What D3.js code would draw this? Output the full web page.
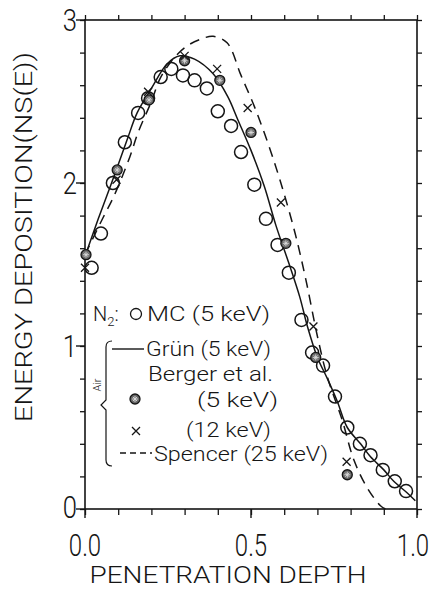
<!DOCTYPE html>
<html>
<head>
<meta charset="utf-8">
<script src="https://cdn.jsdelivr.net/npm/d3@7"></script>
<style>
  body { margin: 0; background: #fff; }
  text { font-family: Roboto, "DejaVu Sans", sans-serif; font-weight: 300; fill: #151515; }
</style>
</head>
<body>
<div class="canvas"></div>
<script>
// MC (N2, 5 keV) open circles
const mcX = [0.02, 0.048, 0.084, 0.12, 0.16, 0.19, 0.228, 0.26, 0.295, 0.33, 0.367, 0.40, 0.44, 0.47, 0.51, 0.545, 0.58, 0.614, 0.652, 0.684, 0.717, 0.753, 0.79, 0.828, 0.86, 0.897, 0.933, 0.967];
const mcY = [1.48, 1.69, 2.0, 2.25, 2.43, 2.52, 2.65, 2.70, 2.66, 2.63, 2.58, 2.44, 2.35, 2.19, 1.99, 1.78, 1.62, 1.45, 1.16, 0.96, 0.88, 0.69, 0.50, 0.40, 0.33, 0.24, 0.17, 0.11];

// Berger et al. (5 keV) and (12 keV)
const berger5X = [0.003, 0.097, 0.193, 0.30, 0.406, 0.50, 0.605, 0.695, 0.79];
const berger5Y = [1.56, 2.08, 2.51, 2.75, 2.63, 2.31, 1.63, 0.93, 0.21];
const berger12X = [0.0, 0.095, 0.19, 0.30, 0.398, 0.49, 0.59, 0.688, 0.788];
const berger12Y = [1.48, 2.02, 2.56, 2.78, 2.70, 2.46, 1.88, 1.12, 0.29];

// Grün (5 keV), solid
const grunX = [0, 0.04, 0.08, 0.126, 0.157, 0.20, 0.247, 0.286, 0.33, 0.386, 0.43, 0.46, 0.50, 0.54, 0.575, 0.617, 0.647, 0.67, 0.70, 0.73, 0.76, 0.79, 0.83, 0.86, 0.90, 0.93, 0.97, 0.995];
const grunY = [1.55, 1.78, 2.0, 2.26, 2.43, 2.58, 2.73, 2.78, 2.76, 2.67, 2.53, 2.39, 2.20, 1.98, 1.74, 1.49, 1.30, 1.12, 0.93, 0.80, 0.66, 0.50, 0.40, 0.32, 0.24, 0.17, 0.10, 0.05];

// Spencer (25 keV), dashed
const spX = [0, 0.055, 0.085, 0.135, 0.16, 0.20, 0.226, 0.265, 0.307, 0.346, 0.386, 0.428, 0.47, 0.51, 0.55, 0.587, 0.633, 0.666, 0.70, 0.73, 0.774, 0.81, 0.85, 0.89, 0.905];
const spY = [1.56, 1.79, 1.91, 2.16, 2.31, 2.50, 2.64, 2.76, 2.84, 2.88, 2.90, 2.86, 2.66, 2.47, 2.25, 2.02, 1.69, 1.40, 1.06, 0.81, 0.55, 0.30, 0.13, 0.02, 0.0];

// tick labels
const xLabels = [0, 0.5, 1.0];
const yLabels = [0, 1, 2, 3];

const dims = { width: 438, height: 589 };
const plot = { left: 85, right: 417, top: 20, bottom: 509 };

const svg = d3
  .select(".canvas")
  .append("svg")
  .attr("width", dims.width)
  .attr("height", dims.height);

const x = d3.scaleLinear().domain([0, 1]).range([plot.left, plot.right]);
const y = d3.scaleLinear().domain([0, 3]).range([plot.bottom, plot.top]);

const ink = "#151515";
const zip = (xs, ys) => xs.map((v, i) => [v, ys[i]]);

// frame ticks (outward, every 0.1 / 0.2)
const xTicks = d3.range(0, 11).map((i) => i / 10);
const yTicks = d3.range(0, 16).map((i) => i / 5);

const axisStyle = (g) => {
  g.select(".domain").remove();
  g.selectAll("line").attr("stroke", ink).attr("stroke-width", 1.3);
};

svg.append("g")
  .attr("transform", `translate(0, ${plot.bottom})`)
  .call(d3.axisBottom(x).tickValues(xTicks).tickSize(6).tickFormat(""))
  .call(axisStyle);
svg.append("g")
  .attr("transform", `translate(0, ${plot.top})`)
  .call(d3.axisTop(x).tickValues(xTicks).tickSize(5).tickFormat(""))
  .call(axisStyle);
svg.append("g")
  .attr("transform", `translate(${plot.left}, 0)`)
  .call(d3.axisLeft(y).tickValues(yTicks).tickSize(5).tickFormat(""))
  .call(axisStyle);
svg.append("g")
  .attr("transform", `translate(${plot.right}, 0)`)
  .call(d3.axisRight(y).tickValues(yTicks).tickSize(5).tickFormat(""))
  .call(axisStyle);

// longer ticks at labelled values
svg.append("g").selectAll("line").data(yLabels).join("line")
  .attr("x1", plot.left - 9).attr("x2", plot.left)
  .attr("y1", (d) => y(d)).attr("y2", (d) => y(d))
  .attr("stroke", ink).attr("stroke-width", 1.4);
svg.append("g").selectAll("line").data(xLabels).join("line")
  .attr("x1", (d) => x(d)).attr("x2", (d) => x(d))
  .attr("y1", plot.bottom).attr("y2", plot.bottom + 9)
  .attr("stroke", ink).attr("stroke-width", 1.4);

// frame
svg.append("rect")
  .attr("x", plot.left).attr("y", plot.top)
  .attr("width", plot.right - plot.left).attr("height", plot.bottom - plot.top)
  .attr("fill", "none").attr("stroke", ink).attr("stroke-width", 1.6);

// tick labels (condensed digits, as in the original)
svg.append("g").selectAll("text").data(yLabels).join("text")
  .attr("transform", (d) => `translate(${plot.left - 8}, ${y(d) + (d === 0 ? 9 : 11)}) scale(0.8, 1)`)
  .attr("text-anchor", "end")
  .attr("font-size", 32)
  .text((d) => d);
svg.append("g").selectAll("text").data(xLabels).join("text")
  .attr("transform", (d) => `translate(${x(d) - (d === 1 ? 4 : 0)}, 556) scale(0.75, 1)`)
  .attr("text-anchor", "middle")
  .attr("font-size", 32)
  .text((d) => d3.format(".1f")(d));

// axis titles
svg.append("text")
  .attr("transform", "translate(32, 237) rotate(-90)")
  .attr("text-anchor", "middle")
  .attr("font-size", 23)
  .attr("textLength", 370).attr("lengthAdjust", "spacingAndGlyphs")
  .text("ENERGY DEPOSITION(NS(E))");
svg.append("text")
  .attr("x", 228).attr("y", 583)
  .attr("text-anchor", "middle")
  .attr("font-size", 24)
  .attr("textLength", 277).attr("lengthAdjust", "spacingAndGlyphs")
  .text("PENETRATION DEPTH");

// curves
const line = d3.line()
  .x((d) => x(d[0]))
  .y((d) => y(d[1]))
  .curve(d3.curveCatmullRom.alpha(0.5));

svg.append("path")
  .attr("d", line(zip(grunX, grunY)))
  .attr("fill", "none").attr("stroke", ink).attr("stroke-width", 1.5);

svg.append("path")
  .attr("d", line(zip(spX, spY)))
  .attr("fill", "none").attr("stroke", ink).attr("stroke-width", 1.5)
  .attr("stroke-dasharray", "10,7");

// markers
const drawBerger = (g) => {
  g.append("circle").attr("r", 5).attr("fill", "#6a6a6a").attr("stroke", ink).attr("stroke-width", 1.3);
  g.append("path").attr("d", "M-3,0H3M0,-3V3M-2,-2L2,2M-2,2L2,-2")
    .attr("stroke", "#ddd").attr("stroke-width", 0.9);
};
const drawCross = (g) => {
  g.append("path").attr("d", "M-4,-4L4,4M-4,4L4,-4")
    .attr("stroke", ink).attr("stroke-width", 1.3);
};

svg.append("g").selectAll("circle").data(zip(mcX, mcY)).join("circle")
  .attr("cx", (d) => x(d[0])).attr("cy", (d) => y(d[1]))
  .attr("r", 6.5)
  .attr("fill", "none").attr("stroke", ink).attr("stroke-width", 1.5);

svg.append("g").selectAll("g").data(zip(berger5X, berger5Y)).join("g")
  .attr("transform", (d) => `translate(${x(d[0])}, ${y(d[1])})`)
  .each(function () { drawBerger(d3.select(this)); });

svg.append("g").selectAll("g").data(zip(berger12X, berger12Y)).join("g")
  .attr("transform", (d) => `translate(${x(d[0])}, ${y(d[1])})`)
  .each(function () { drawCross(d3.select(this)); });

// legend
const legend = svg.append("g").attr("font-size", 20);

const n2 = legend.append("text").attr("x", 93).attr("y", 321);
n2.append("tspan").text("N");
n2.append("tspan").attr("font-size", 13).attr("dy", 5).text("2");
n2.append("tspan").attr("dy", -5).text(":");
legend.append("circle").attr("cx", 136).attr("cy", 314).attr("r", 5.5)
  .attr("fill", "none").attr("stroke", ink).attr("stroke-width", 1.3);
legend.append("text").attr("x", 147).attr("y", 321)
  .attr("textLength", 123).attr("lengthAdjust", "spacingAndGlyphs")
  .text("MC  (5 keV)");

legend.append("path")
  .attr("d", "M112,341 Q106,341 106,347 V400 L101,405 L106,410 V460 Q106,466 112,466")
  .attr("fill", "none").attr("stroke", ink).attr("stroke-width", 1.2);
legend.append("text")
  .attr("transform", "translate(101, 385) rotate(-90)")
  .attr("text-anchor", "middle").attr("font-size", 11)
  .text("Air");

legend.append("line").attr("x1", 112).attr("x2", 144).attr("y1", 349).attr("y2", 349)
  .attr("stroke", ink).attr("stroke-width", 1.4);
legend.append("text").attr("x", 146).attr("y", 356)
  .attr("textLength", 125).attr("lengthAdjust", "spacingAndGlyphs")
  .text("Grün (5 keV)");

legend.append("text").attr("x", 148).attr("y", 381)
  .attr("textLength", 125).attr("lengthAdjust", "spacingAndGlyphs")
  .text("Berger et al.");

drawBerger(legend.append("g").attr("transform", "translate(135, 399)"));
legend.append("text").attr("x", 197).attr("y", 407)
  .attr("textLength", 81).attr("lengthAdjust", "spacingAndGlyphs")
  .text("(5 keV)");

drawCross(legend.append("g").attr("transform", "translate(136, 431)"));
legend.append("text").attr("x", 186).attr("y", 437)
  .attr("textLength", 85).attr("lengthAdjust", "spacingAndGlyphs")
  .text("(12 keV)");

legend.append("line").attr("x1", 120).attr("x2", 152).attr("y1", 453).attr("y2", 453)
  .attr("stroke", ink).attr("stroke-width", 1.4).attr("stroke-dasharray", "6,4");
legend.append("text").attr("x", 154).attr("y", 461)
  .attr("textLength", 174).attr("lengthAdjust", "spacingAndGlyphs")
  .text("Spencer (25 keV)");
</script>
</body>
</html>
